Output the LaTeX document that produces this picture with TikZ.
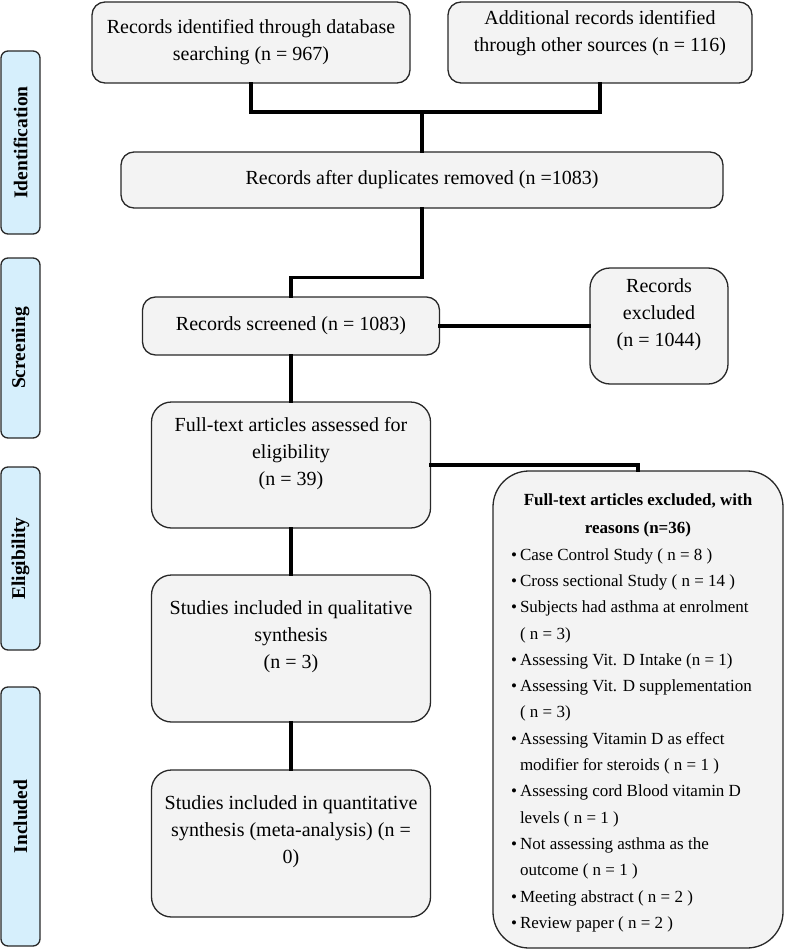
\documentclass[tikz,border=0pt]{standalone}
\usepackage{fontspec}
\setmainfont{Liberation Serif}
\definecolor{boxgray}{RGB}{243,243,243}
\definecolor{sideblue}{RGB}{214,239,252}
\definecolor{edge}{RGB}{40,40,40}
\newcommand\bodyfs{\fontsize{20}{27}\selectfont}
\newcommand\sidefs{\fontsize{19.5}{22}\selectfont\bfseries}
\newcommand\listfs{\fontsize{17}{26.3}\selectfont}
\newcommand\bitem{\makebox[13pt][l]{\hspace{4pt}\textbullet}}
\newcommand\bcont{\hspace*{13pt}}
\begin{document}
\begin{tikzpicture}[x=1pt,y=-1pt,
  box/.style={draw=edge, line width=1.3pt, fill=boxgray, rounded corners=13pt,
    align=center, font=\bodyfs, inner sep=2pt},
  bigr/.style={rounded corners=20pt},
  side/.style={draw=edge, line width=1.3pt, fill=sideblue, rounded corners=7pt,
    font=\sidefs, rotate=90, minimum height=39pt, inner sep=0pt},
  conn/.style={line width=3.5pt, line cap=rect}
]
\useasboundingbox (0,0) rectangle (785,952);

% phase labels
\node[side, minimum width=183pt] (sid) at (20.5,142.5) {Identification};
\node[side, minimum width=180pt] (ssc) at (20.5,348) {Screening};
\node[side, minimum width=183pt] (sel) at (20.5,558.5) {Eligibility};
\node[side, minimum width=259pt] (sin) at (20.5,816.5) {Included};

% boxes
\node[box, minimum width=318pt, minimum height=81pt] (A) at (251,42.5)
  {Records identified through database\\searching (n = 967)};
\node[box, minimum width=304pt, minimum height=81pt] (B) at (600,42.5)
  {Additional records identified\\through other sources (n = 116)\\[-4pt]\mbox{}};
\node[box, minimum width=602pt, minimum height=56pt] (C) at (422,180)
  {Records after duplicates removed (n =1083)};
\node[box, minimum width=297pt, minimum height=58pt] (D) at (291,326)
  {Records screened (n = 1083)};
\node[box, bigr, minimum width=138pt, minimum height=116pt] (E) at (659,326)
  {Records\\excluded\\(n = 1044)\\\mbox{}};
\node[box, bigr, minimum width=279pt, minimum height=126pt] (F) at (291,465)
  {Full-text articles assessed for\\eligibility\\(n = 39)\\\mbox{}};
\node[box, bigr, minimum width=279pt, minimum height=147pt] (G) at (291,648.5)
  {Studies included in qualitative\\synthesis\\(n = 3)\\\mbox{}};
\node[box, bigr, minimum width=279pt, minimum height=147pt] (H) at (291,843.5)
  {Studies included in quantitative\\synthesis (meta-analysis) (n =\\0)\\\mbox{}};
\node[box, rounded corners=36pt, minimum width=290pt, minimum height=477pt,
  align=left, inner sep=0pt] (I) at (638,709.5)
  {\parbox{262pt}{\vspace*{7pt}\fontsize{17}{28}\selectfont\centering\bfseries
   Full-text articles excluded, with\\reasons (n=36)\par
   \listfs\raggedright\mdseries
   \bitem Case Control Study ( n = 8 )\\
   \bitem Cross sectional Study ( n = 14 )\\
   \bitem Subjects had asthma at enrolment\\
   \bcont( n = 3)\\
   \bitem Assessing Vit. D Intake (n = 1)\\
   \bitem Assessing Vit. D supplementation\\
   \bcont( n = 3)\\
   \bitem Assessing Vitamin D as effect\\
   \bcont modifier for steroids ( n = 1 )\\
   \bitem Assessing cord Blood vitamin D\\
   \bcont levels ( n = 1 )\\
   \bitem Not assessing asthma as the\\
   \bcont outcome ( n = 1 )\\
   \bitem Meeting abstract ( n = 2 )\\
   \bitem Review paper ( n = 2 )\par}};

% connectors
\coordinate (j1) at (422,112);
\draw[conn] (A.south) -- (A.south |- j1) -| (B.south);
\draw[conn] (j1) -- (C.north);
\draw[conn] (C.south) -- ++(0,69) -| (D.north);
\draw[conn] (D.east) -- (E.west);
\draw[conn] (D.south) -- (F.north);
\draw[conn] (F.east) -| (I.north);
\draw[conn] (F.south) -- (G.north);
\draw[conn] (G.south) -- (H.north);
\end{tikzpicture}
\end{document}
